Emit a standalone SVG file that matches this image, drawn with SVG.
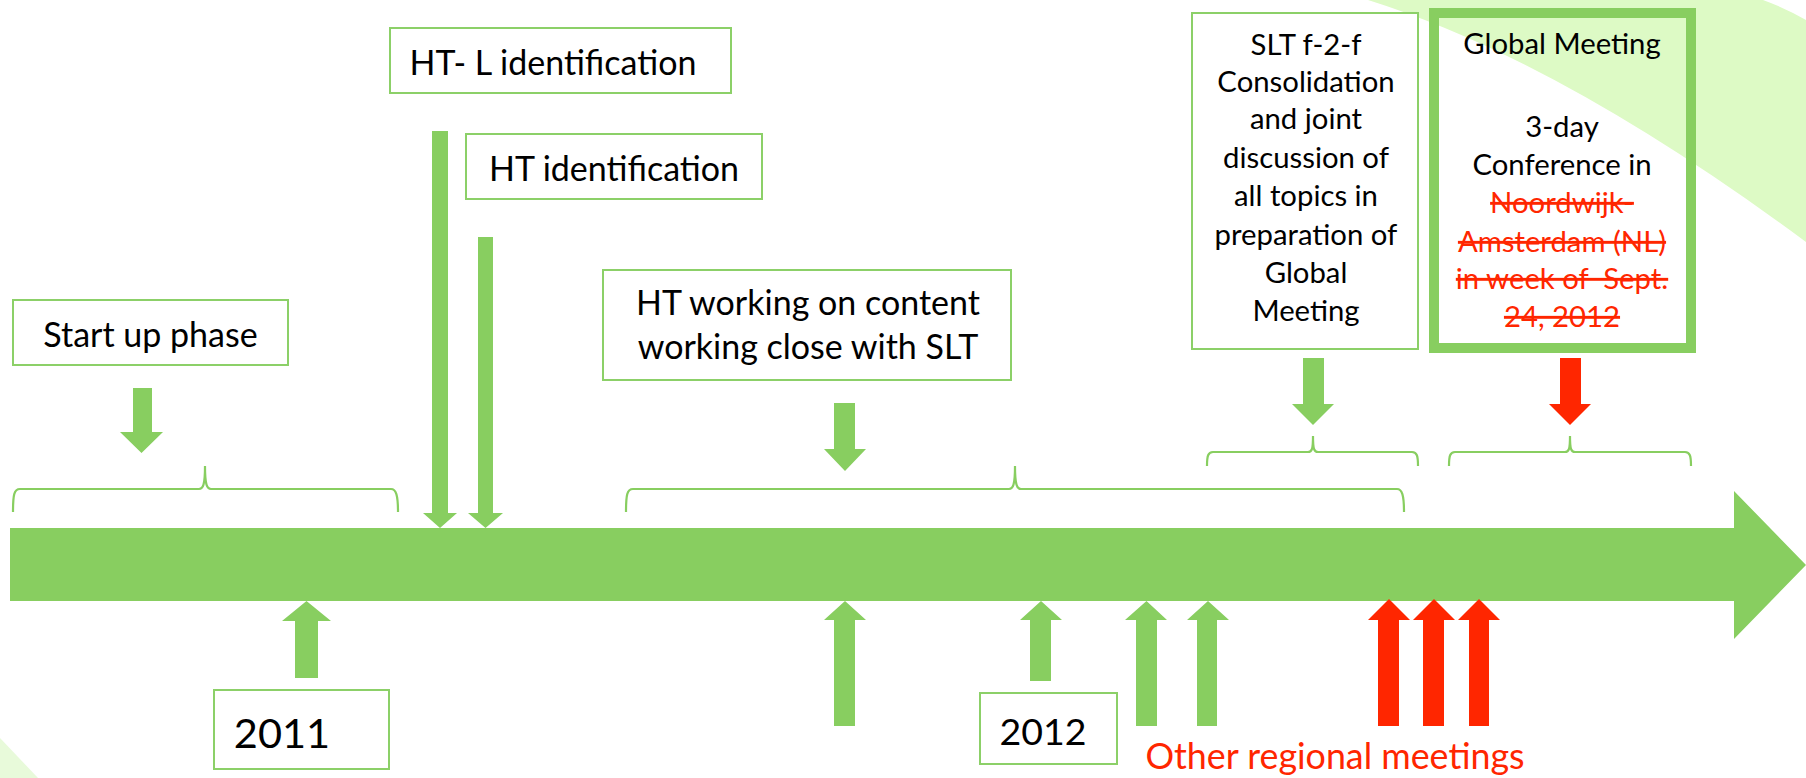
<svg xmlns="http://www.w3.org/2000/svg" width="1806" height="778" viewBox="0 0 1806 778">
<style>
  .box{fill:#fff;stroke:#8CD068;stroke-width:2}
  .gbox{fill:none;stroke:#88CE60;stroke-width:10}
  .g{fill:#88CE60}
  .r{fill:#FF2600}
  .brace{fill:none;stroke:#88CE60;stroke-width:2.2}
  text{font-family:Lato,"Liberation Sans",sans-serif;fill:#000;text-anchor:middle}
  .t37{font-size:34px}
  .t32{font-size:29.3px}
  .red{fill:#FF2600}
  .strike{text-decoration:line-through}
</style>
<rect width="1806" height="778" fill="#fff"/>
<g id="background">
  <path d="M1368,0 Q1560,60 1806,242 L1806,20 Q1785,8 1763,0 Z" fill="#DDFAC5"/>
  <path d="M0,738 L0,778 L38,778 Z" fill="#E8FADA"/>
</g>
<g id="timeline">
  <path class="g" d="M10,528 H1734 V491 L1806,565 L1734,639 V601 H10 Z"/>
</g>
<g id="connectors">
  <path class="brace" d="M13,512 C13,495 14,489 20,489 L199,489 C203,489 205,485 205,466 C205,485 207,489 211,489 L391,489 C396,489 398,495 398,512"/>
  <path class="brace" d="M626,512 C626,495 627,489 633,489 L1009,489 C1013,489 1015,485 1015,466 C1015,485 1017,489 1021,489 L1397,489 C1402,489 1404,495 1404,512"/>
  <path class="brace" d="M1207,466 C1207,456 1208,452 1213,452 L1308,452 C1312,452 1313,449 1313,436 C1313,449 1314,452 1318,452 L1412,452 C1417,452 1418,456 1418,466"/>
  <path class="brace" d="M1449,466 C1449,456 1450,452 1455,452 L1565,452 C1569,452 1570,449 1570,436 C1570,449 1571,452 1575,452 L1685,452 C1690,452 1691,456 1691,466"/>
  <path class="g" d="M133,388 H152 V432 H163 L141.5,453 L120,432 H133 Z"/>
  <path class="g" d="M432,131 H448 V513 H457 L440,528 L423,513 H432 Z"/>
  <path class="g" d="M478,237 H493 V513 H503 L485.5,528 L468,513 H478 Z"/>
  <path class="g" d="M834,403 H855 V449 H866 L845,471 L824,449 H834 Z"/>
  <path class="g" d="M1303,358 H1324 V404 H1334 L1313,425 L1292,404 H1303 Z"/>
  <path class="r" d="M1560,358 H1581 V404 H1591 L1570,425 L1549,404 H1560 Z"/>
  <path class="g" d="M295,678 H318 V621 H331 L306.5,601 L282,621 H295 Z"/>
  <path class="g" d="M834,726 H855 V620 H866 L845,601 L824,620 H834 Z"/>
  <path class="g" d="M1030,681 H1051 V620 H1062 L1041,601 L1020,620 H1030 Z"/>
  <path class="g" d="M1136,726 H1157 V620 H1167 L1146.5,601 L1125,620 H1136 Z"/>
  <path class="g" d="M1197,726 H1217 V620 H1229 L1208,601 L1187,620 H1197 Z"/>
  <path class="r" d="M1378,726 H1399 V620 H1410 L1389,599 L1368,620 H1378 Z"/>
  <path class="r" d="M1423,726 H1444 V620 H1455 L1434,599 L1413,620 H1423 Z"/>
  <path class="r" d="M1469,726 H1489 V620 H1500 L1479,599 L1458,620 H1469 Z"/>
</g>
<g id="node-htl">
  <rect class="box" x="390" y="28" width="341" height="65"/>
  <text class="t37" x="553" y="75">HT- L identification</text>
</g>
<g id="node-ht">
  <rect class="box" x="466" y="134" width="296" height="65"/>
  <text class="t37" x="614" y="181">HT identification</text>
</g>
<g id="node-startup">
  <rect class="box" x="13" y="300" width="275" height="65"/>
  <text class="t37" x="150.5" y="347">Start up phase</text>
</g>
<g id="node-htworking">
  <rect class="box" x="603" y="270" width="408" height="110"/>
  <text class="t37" x="808" y="315">HT working on content</text>
  <text class="t37" x="808" y="359">working close with SLT</text>
</g>
<g id="node-slt">
  <rect class="box" x="1192" y="13" width="226" height="336"/>
  <text class="t32" x="1306" y="55">SLT f-2-f</text>
  <text class="t32" x="1306" y="92">Consolidation</text>
  <text class="t32" x="1306" y="129">and joint</text>
  <text class="t32" x="1306" y="168">discussion of</text>
  <text class="t32" x="1306" y="206">all topics in</text>
  <text class="t32" x="1306" y="245">preparation of</text>
  <text class="t32" x="1306" y="283">Global</text>
  <text class="t32" x="1306" y="321">Meeting</text>
</g>
<g id="node-global">
  <rect class="gbox" x="1434" y="13" width="257" height="335"/>
  <text class="t32" x="1562" y="54">Global Meeting</text>
  <text class="t32" x="1562" y="137">3-day</text>
  <text class="t32" x="1562" y="175">Conference in</text>
  <text class="t32 red strike" x="1562" y="213">Noordwijk-</text>
  <text class="t32 red strike" x="1562" y="252">Amsterdam (NL)</text>
  <text class="t32 red strike" x="1562" y="289" xml:space="preserve">in week of  Sept.</text>
  <text class="t32 red strike" x="1562" y="327">24, 2012</text>
</g>
<g id="node-2011">
  <rect class="box" x="214" y="690" width="175" height="79"/>
  <text x="282" y="748" style="font-size:41.5px">2011</text>
</g>
<g id="node-2012">
  <rect class="box" x="980" y="693" width="137" height="71"/>
  <text x="1043" y="745" style="font-size:37.5px">2012</text>
</g>
<g id="label-regional">
  <text class="red" x="1335" y="769" style="font-size:35.8px">Other regional meetings</text>
</g>
</svg>
